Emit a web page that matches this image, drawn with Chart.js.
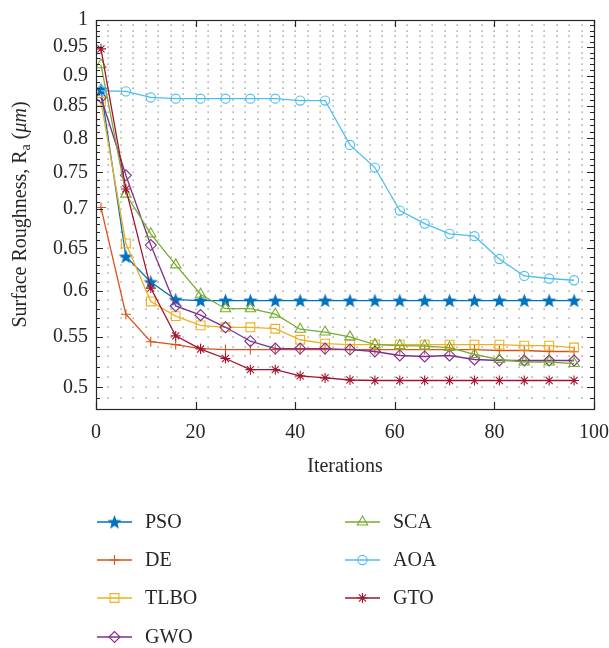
<!DOCTYPE html>
<html>
<head>
<meta charset="utf-8">
<script src="https://cdn.jsdelivr.net/npm/chart.js@4.4.1/dist/chart.umd.min.js"></script>
<style>
    html, body { margin: 0; padding: 0; background: #fff; }
</style>
</head>
<body>
<canvas id="myChart" width="609" height="648"></canvas>
<script>
// data
const iterations = [1, 6, 11, 16, 21, 26, 31, 36, 41, 46, 51, 56, 61, 66, 71, 76, 81, 86, 91, 96];
const pso  = [0.877, 0.640, 0.610, 0.590, 0.589, 0.589, 0.589, 0.589, 0.589, 0.589, 0.589, 0.589, 0.589, 0.589, 0.589, 0.589, 0.589, 0.589, 0.589, 0.589];
const de   = [0.702, 0.574, 0.545, 0.542, 0.538, 0.537, 0.537, 0.537, 0.537, 0.537, 0.537, 0.537, 0.537, 0.537, 0.537, 0.537, 0.536, 0.536, 0.535, 0.535];
const tlbo = [0.857, 0.656, 0.588, 0.572, 0.562, 0.560, 0.560, 0.5585, 0.547, 0.543, 0.542, 0.542, 0.542, 0.542, 0.542, 0.542, 0.542, 0.541, 0.541, 0.539];
const gwo  = [0.864, 0.746, 0.654, 0.583, 0.573, 0.560, 0.5455, 0.538, 0.538, 0.538, 0.537, 0.535, 0.531, 0.530, 0.531, 0.527, 0.526, 0.526, 0.526, 0.526];
const sca  = [0.919, 0.720, 0.668, 0.630, 0.596, 0.580, 0.580, 0.574, 0.558, 0.555, 0.550, 0.542, 0.541, 0.5405, 0.539, 0.532, 0.527, 0.5245, 0.5245, 0.523];
const aoa  = [0.875, 0.874, 0.864, 0.862, 0.862, 0.862, 0.862, 0.862, 0.859, 0.859, 0.790, 0.757, 0.698, 0.681, 0.668, 0.665, 0.637, 0.617, 0.614, 0.612];
const gto  = [0.947, 0.727, 0.603, 0.551, 0.5375, 0.528, 0.517, 0.517, 0.511, 0.509, 0.507, 0.5065, 0.5065, 0.5065, 0.5065, 0.5065, 0.5065, 0.5065, 0.5065, 0.5065];

const seriesNames = ['PSO', 'DE', 'TLBO', 'GWO', 'SCA', 'AOA', 'GTO'];
const seriesData = [pso, de, tlbo, gwo, sca, aoa, gto];
const seriesColors = ['#0072BD', '#D95319', '#EDB120', '#7E2F8E', '#77AC30', '#4DBEEE', '#A2142F'];

const yTicks = [0.5, 0.55, 0.6, 0.65, 0.7, 0.75, 0.8, 0.85, 0.9, 0.95, 1];
const xTicks = [0, 20, 40, 60, 80, 100];

const FONT = '"Liberation Serif", "Times New Roman", serif';
const TEXT = '#262626';

// filled five point star (matlab pentagram)
function makeStar(color, r) {
    let c = document.createElement('canvas');
    let s = Math.ceil(r * 2 + 2);
    c.width = s; c.height = s;
    let g = c.getContext('2d');
    g.beginPath();
    for (let k = 0; k < 10; k++) {
        let rr = k % 2 ? r * 0.42 : r;
        let a = -Math.PI / 2 + k * Math.PI / 5;
        g.lineTo(s / 2 + rr * Math.cos(a), s / 2 + 0.6 + rr * Math.sin(a));
    }
    g.closePath();
    g.fillStyle = color;
    g.fill();
    return c;
}

const markers = [
    { style: makeStar('#0072BD', 7.5), radius: 7 },
    { style: 'cross', radius: 5 },
    { style: 'rect', radius: 6.2 },
    { style: 'rectRot', radius: 5.5 },
    { style: 'triangle', radius: 6 },
    { style: 'circle', radius: 4.6 },
    { style: 'star', radius: 5 }
];

const datasets = seriesNames.map(function (name, i) {
    return {
        label: name,
        data: iterations.map(function (x, k) { return { x: x, y: seriesData[i][k] }; }),
        borderColor: seriesColors[i],
        backgroundColor: 'rgba(0,0,0,0)',
        borderWidth: 1.3,
        pointStyle: markers[i].style,
        pointRadius: markers[i].radius,
        pointBorderWidth: 1.1,
        pointBorderColor: seriesColors[i],
        pointBackgroundColor: 'rgba(0,0,0,0)',
        tension: 0,
        order: 6 - i
    };
});

// dots, box, inner ticks, titles, legend
const decoPlugin = {
    id: 'deco',
    beforeDatasetsDraw(chart) {
        let c = chart.ctx, a = chart.chartArea;
        let xs = chart.scales.x, ys = chart.scales.y;
        c.save();
        c.fillStyle = 'rgba(70,70,70,0.75)';
        for (let xv = 2.5; xv < 100; xv += 2.5) {
            let px = Math.round(xs.getPixelForValue(xv));
            for (let k = 49; k < 100; k++) {
                let py = Math.round(ys.getPixelForValue(k / 100));
                c.fillRect(px - 0.5, py - 0.5, 1.2, 1.2);
            }
        }
        c.restore();
    },
    afterDatasetsDraw(chart) {
        let c = chart.ctx, a = chart.chartArea;
        let xs = chart.scales.x, ys = chart.scales.y;
        c.save();
        c.strokeStyle = TEXT;
        c.lineWidth = 1.2;
        c.strokeRect(Math.round(a.left) + 0.5, Math.round(a.top) + 0.5, Math.round(a.right - a.left), Math.round(a.bottom - a.top));
        c.beginPath();
        for (let k = 49; k <= 100; k++) {
            let py = Math.round(ys.getPixelForValue(k / 100)) + 0.5;
            let len = k % 5 === 0 ? 7 : 4;
            c.moveTo(a.left, py); c.lineTo(a.left + len, py);
            c.moveTo(a.right, py); c.lineTo(a.right - len, py);
        }
        xTicks.forEach(function (v) {
            let px = Math.round(xs.getPixelForValue(v)) + 0.5;
            c.moveTo(px, a.bottom); c.lineTo(px, a.bottom - 7);
            c.moveTo(px, a.top); c.lineTo(px, a.top + 7);
        });
        c.stroke();
        c.restore();
    },
    afterDraw(chart) {
        let c = chart.ctx, a = chart.chartArea;
        c.save();
        c.fillStyle = TEXT;
        c.textBaseline = 'middle';

        // y title with subscript and italic unit
        let parts = [
            { t: 'Surface Roughness, R', f: '20px ' + FONT, dy: 0 },
            { t: 'a', f: '14px ' + FONT, dy: 5 },
            { t: ' (', f: '20px ' + FONT, dy: 0 },
            { t: 'μm', f: 'italic 20px ' + FONT, dy: 0 },
            { t: ')', f: '20px ' + FONT, dy: 0 }
        ];
        let total = 0;
        parts.forEach(function (p) { c.font = p.f; p.w = c.measureText(p.t).width; total += p.w; });
        c.translate(21, (a.top + a.bottom) / 2);
        c.rotate(-Math.PI / 2);
        let x = -total / 2;
        c.textAlign = 'left';
        parts.forEach(function (p) { c.font = p.f; c.fillText(p.t, x, p.dy); x += p.w; });
        c.setTransform(1, 0, 0, 1, 0, 0);

        // x title
        c.font = '20px ' + FONT;
        c.textAlign = 'center';
        c.fillText('Iterations', (a.left + a.right) / 2, 467);

        // legend, two columns
        let rowsY = [522, 560, 598, 637];
        let cols = [97, 345];
        seriesNames.forEach(function (name, i) {
            let col = i < 4 ? 0 : 1;
            let row = i < 4 ? i : i - 4;
            let x0 = cols[col], y0 = rowsY[row];
            c.strokeStyle = seriesColors[i];
            c.lineWidth = 1.3;
            c.beginPath();
            c.moveTo(x0, y0); c.lineTo(x0 + 35, y0);
            c.stroke();
            c.fillStyle = 'rgba(0,0,0,0)';
            c.lineWidth = 1.1;
            Chart.helpers.drawPoint(c, { pointStyle: markers[i].style, radius: markers[i].radius, rotation: 0, borderWidth: 1.1 }, x0 + 17.5, y0);
            c.fillStyle = TEXT;
            c.font = '20px ' + FONT;
            c.textAlign = 'left';
            c.fillText(name, x0 + 48, y0 + 1);
        });
        c.restore();
    }
};

let ctx = document.getElementById('myChart').getContext('2d');
let chart = new Chart(ctx, {
    type: 'line',
    data: { datasets: datasets },
    options: {
        responsive: false,
        animation: false,
        devicePixelRatio: 1,
        layout: { padding: { top: 17, right: 0, left: 0, bottom: 0 } },
        plugins: {
            legend: { display: false },
            tooltip: { enabled: false }
        },
        scales: {
            x: {
                type: 'linear',
                min: 0,
                max: 100,
                afterFit: function (s) { s.height = 239; s.paddingRight = 15; },
                afterBuildTicks: function (s) { s.ticks = xTicks.map(function (v) { return { value: v }; }); },
                grid: { display: false, drawTicks: false },
                border: { display: false },
                ticks: { padding: 12, maxRotation: 0, autoSkip: false, color: TEXT, font: { family: FONT, size: 20 } }
            },
            y: {
                type: 'logarithmic',
                min: 0.48,
                max: 1,
                afterFit: function (s) { s.width = 96; },
                afterBuildTicks: function (s) { s.ticks = yTicks.map(function (v) { return { value: v }; }); },
                grid: { display: false, drawTicks: false },
                border: { display: false },
                ticks: {
                    padding: 8,
                    autoSkip: false,
                    color: TEXT,
                    font: { family: FONT, size: 20 },
                    callback: function (v) { return String(Number(Number(v).toFixed(2))); }
                }
            }
        }
    },
    plugins: [decoPlugin]
});
</script>
</body>
</html>
